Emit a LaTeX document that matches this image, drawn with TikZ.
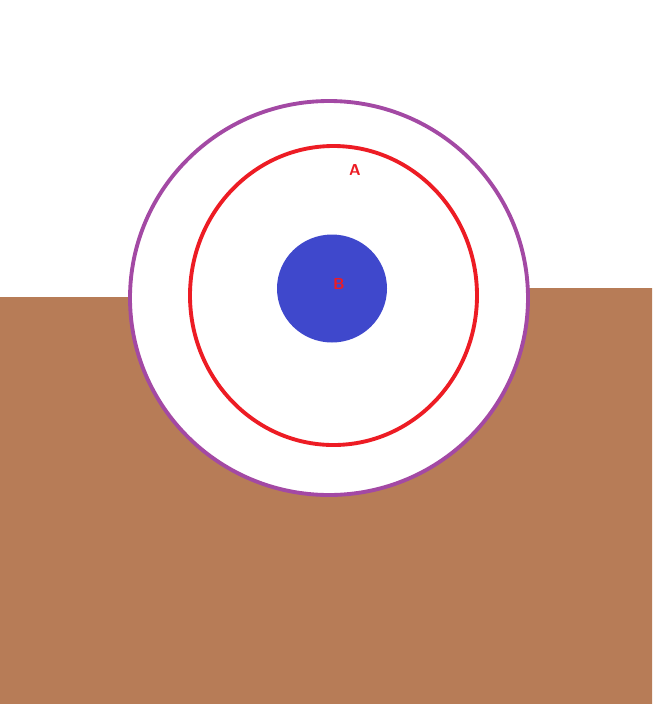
\documentclass[tikz,border=0pt]{standalone}
\usepackage{tikz}
\definecolor{soil}{RGB}{183,124,87}
\definecolor{rim}{RGB}{163,73,164}
\definecolor{ring}{RGB}{237,28,36}
\definecolor{core}{RGB}{63,72,204}
\tikzset{lbl/.style={text=ring, font=\sffamily\bfseries\fontsize{9}{9}\selectfont, inner sep=0pt}}

\begin{document}
\begin{tikzpicture}[x=0.02cm, y=-0.02cm]
		\useasboundingbox (0,0) rectangle (654,704);
		\fill[soil] (0,297) -- (329,297) -- (329,288) -- (652,288) -- (652,704) -- (0,704) -- cycle;
		\filldraw[fill=white, draw=rim, line width=2.2pt] (329,298) ellipse [x radius=199, y radius=197];
		\draw[ring, line width=2.2pt] (333.5,295.5) ellipse [x radius=143.5, y radius=149.5];
		\fill[core] (332,288.5) ellipse [x radius=55, y radius=54];
		\node[lbl] (A) at (355,170) {A};
		\node[lbl] (B) at (339,284) {B};
	\end{tikzpicture}
\end{document}
